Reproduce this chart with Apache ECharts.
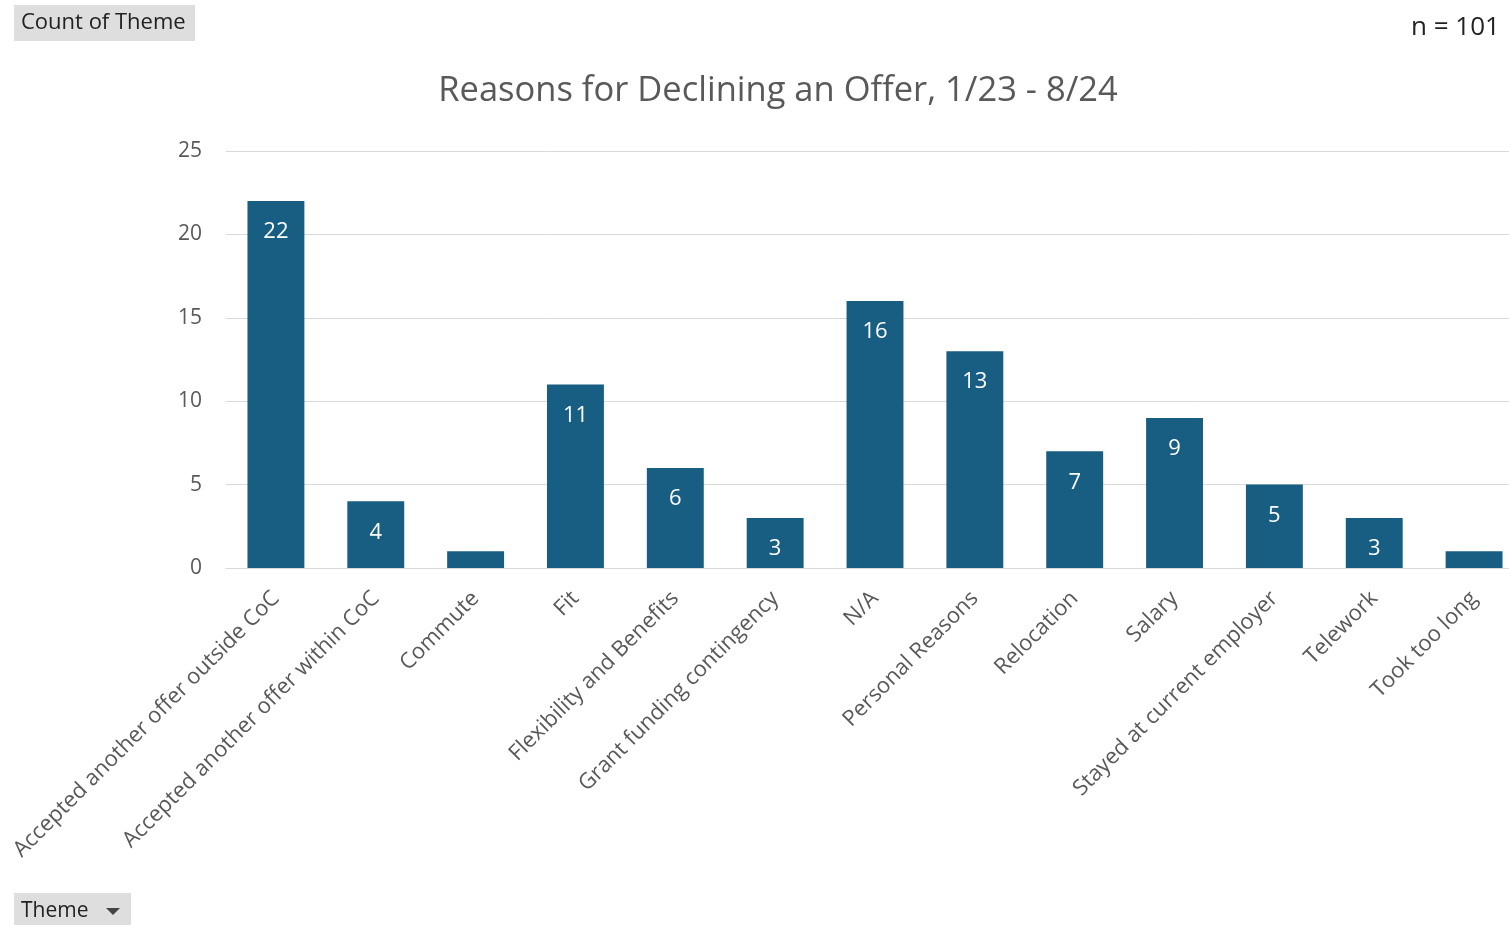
<!DOCTYPE html>
<html>
<head>
<meta charset="utf-8">
<title>Reasons for Declining an Offer</title>
<script src="https://cdn.jsdelivr.net/npm/echarts@6/dist/echarts.min.js"></script>
<style>
  html, body { margin: 0; padding: 0; background: #fff; overflow: hidden; }
  /* plot area runs slightly past the right edge, like the original */
  #chart { width: 1524px; height: 925px; }
</style>
</head>
<body>
<div id="chart"></div>
<script>
const themes = [
  'Accepted another offer outside CoC',
  'Accepted another offer within CoC',
  'Commute',
  'Fit',
  'Flexibility and Benefits',
  'Grant funding contingency',
  'N/A',
  'Personal Reasons',
  'Relocation',
  'Salary',
  'Stayed at current employer',
  'Telework',
  'Took too long'
];
const counts = [22, 4, 1, 11, 6, 3, 16, 13, 7, 9, 5, 3, 1];
const yTicks = [0, 5, 10, 15, 20, 25];

const font = '"Open Sans", "Liberation Sans", sans-serif';
const chart = echarts.init(document.getElementById('chart'));

chart.setOption({
  animation: false,
  textStyle: { fontFamily: font },
  title: {
    text: 'Reasons for Declining an Offer, 1/23 - 8/24',
    left: 773,
    top: 69,
    textAlign: 'center',
    textStyle: { color: '#595959', fontSize: 34.5, fontWeight: 'normal', fontFamily: font }
  },
  graphic: [
    {
      type: 'group', left: 14, top: 5,
      children: [
        { type: 'rect', shape: { x: 0, y: 0, width: 181, height: 36 }, style: { fill: '#dedede' } },
        { type: 'text', x: 7, y: 18, style: { text: 'Count of Theme', fill: '#222', fontSize: 22, fontFamily: font, verticalAlign: 'middle' } }
      ]
    },
    {
      type: 'text', left: 1411, top: 15,
      style: { text: 'n = 101', fill: '#222', fontSize: 26, fontFamily: font }
    },
    {
      type: 'group', left: 14, top: 893,
      children: [
        { type: 'rect', shape: { x: 0, y: 0, width: 117, height: 34 }, style: { fill: '#dedede' } },
        { type: 'text', x: 7, y: 18, style: { text: 'Theme', fill: '#222', fontSize: 21, fontFamily: font, verticalAlign: 'middle' } },
        { type: 'polygon', shape: { points: [[92, 15], [106, 15], [99, 22]] }, style: { fill: '#444' } }
      ]
    }
  ],
  grid: { left: 226, right: 0, top: 151, bottom: 357, containLabel: false },
  xAxis: {
    type: 'category',
    data: themes,
    axisLine: { lineStyle: { color: '#d9d9d9', width: 1 } },
    axisTick: { show: false },
    axisLabel: {
      interval: 0,
      rotate: 45,
      color: '#595959',
      fontSize: 22,
      margin: 27,
      fontFamily: font
    }
  },
  yAxis: {
    type: 'value',
    min: yTicks[0],
    max: yTicks[yTicks.length - 1],
    interval: 5,
    axisLine: { show: false },
    axisTick: { show: false },
    splitLine: { lineStyle: { color: '#d9d9d9', width: 1 } },
    axisLabel: { color: '#595959', fontSize: 21, margin: 24, fontFamily: font }
  },
  series: [
    {
      type: 'bar',
      data: counts,
      barWidth: '57%',
      itemStyle: { color: '#175e82' },
      label: {
        show: true,
        position: 'insideTop',
        distance: 20,
        color: '#ffffff',
        fontSize: 22,
        fontFamily: font
      }
    }
  ]
});
</script>
</body>
</html>
